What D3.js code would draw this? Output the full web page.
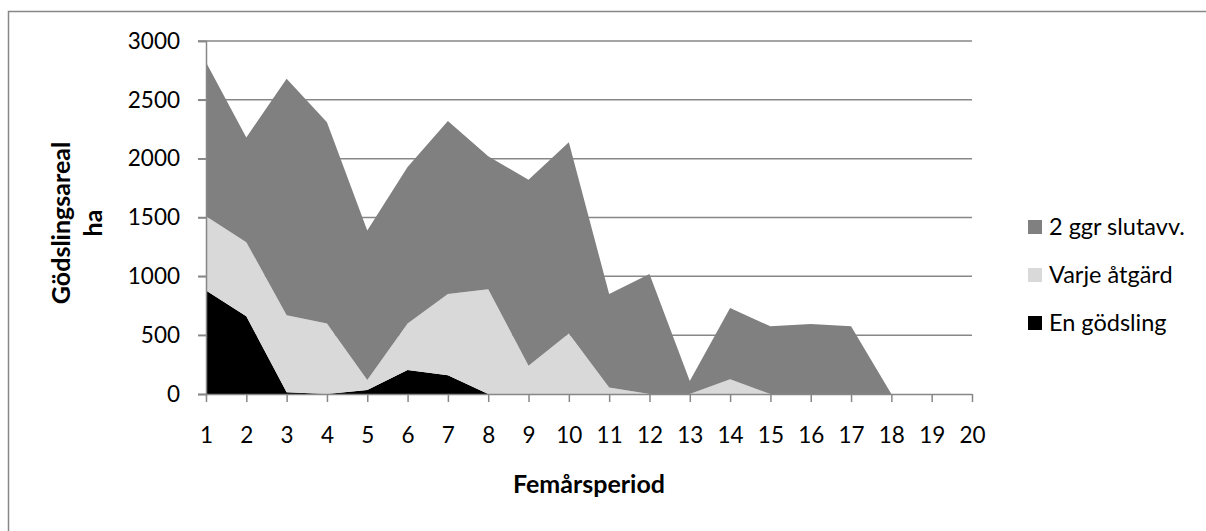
<!DOCTYPE html>
<html>
<head>
<meta charset="utf-8">
<script src="https://cdn.jsdelivr.net/npm/d3@7"></script>
<style>
  html, body { margin: 0; padding: 0; background: #fff; }
  svg { display: block; }
  text { font-family: Lato, "Open Sans", sans-serif; fill: #000; }
</style>
</head>
<body>
<svg id="chart" width="1206" height="531"></svg>
<script>
// Femårsperioder 1–20
const periods = d3.range(1, 21);

// Gödslingsareal (ha) per period och strategi
const enGodsling   = [880, 660, 15, 0, 35, 205, 160, 0, 0, 0, 0, 0, 0, 0, 0, 0, 0, 0, 0, 0];
const varjeAtgard  = [630, 630, 655, 600, 85, 395, 690, 890, 240, 515, 55, 0, 0, 125, 0, 0, 0, 0, 0, 0];
const tvaGgrSlut   = [1310, 890, 2010, 1710, 1270, 1330, 1470, 1130, 1580, 1625, 795, 1020, 110, 605, 575, 595, 575, 0, 0, 0];

const seriesNames  = ["En gödsling", "Varje åtgärd", "2 ggr slutavv."];
const seriesColors = ["#000000", "#d9d9d9", "#808080"];
const yTicks = [0, 500, 1000, 1500, 2000, 2500, 3000];

const rows = periods.map((p, i) => ({
  period: p,
  "En gödsling": enGodsling[i],
  "Varje åtgärd": varjeAtgard[i],
  "2 ggr slutavv.": tvaGgrSlut[i]
}));

const svg = d3.select("#chart");
const gridColor = "#878787";

// chart frame
svg.append("rect")
  .attr("x", 8.5).attr("y", 11.5)
  .attr("width", 1230).attr("height", 560)
  .attr("fill", "none").attr("stroke", gridColor).attr("stroke-width", 1.5);

const x = d3.scaleLinear().domain([1, 20]).range([206, 972]);
const y = d3.scaleLinear().domain([0, 3000]).range([394, 41]);

// horizontal gridlines
svg.append("g").selectAll("line")
  .data(yTicks.filter(d => d > 0))
  .join("line")
  .attr("x1", 198).attr("x2", 972)
  .attr("y1", d => y(d)).attr("y2", d => y(d))
  .attr("stroke", gridColor).attr("stroke-width", 1.5);

// stacked areas
const stack = d3.stack().keys(seriesNames);
const layers = stack(rows);
const area = d3.area()
  .x(d => x(d.data.period))
  .y0(d => y(d[0]))
  .y1(d => y(d[1]));

svg.append("g").selectAll("path")
  .data(layers)
  .join("path")
  .attr("d", area)
  .attr("fill", (d, i) => seriesColors[i]);

// y axis
const yAxis = d3.axisLeft(y).tickValues(yTicks).tickSize(8).tickPadding(18).tickFormat(d3.format("d"));
const gy = svg.append("g").attr("transform", "translate(206,0)").call(yAxis);
gy.select(".domain").attr("stroke", gridColor).attr("stroke-width", 1.5);
gy.selectAll(".tick line").attr("stroke", gridColor).attr("stroke-width", 1.5);
gy.selectAll(".tick text").attr("font-size", "22.5px").attr("font-family", "Lato, sans-serif");

// x axis
const xAxis = d3.axisBottom(x).tickValues(periods).tickSize(8).tickPadding(25).tickFormat(d3.format("d"));
const gx = svg.append("g").attr("transform", "translate(0,394)").call(xAxis);
gx.select(".domain").attr("d", "M198,0.5H972").attr("stroke", gridColor).attr("stroke-width", 1.5);
gx.selectAll(".tick line").attr("stroke", gridColor).attr("stroke-width", 1.5);
gx.selectAll(".tick text").attr("font-size", "22.5px").attr("font-family", "Lato, sans-serif");

// axis titles
svg.append("text")
  .attr("x", 589).attr("y", 493)
  .attr("text-anchor", "middle")
  .attr("font-size", "25px").attr("font-weight", "bold")
  .text("Femårsperiod");

const yTitle = svg.append("text")
  .attr("transform", "translate(0,223) rotate(-90)")
  .attr("text-anchor", "middle")
  .attr("font-size", "25px").attr("font-weight", "bold");
yTitle.append("tspan").attr("x", 0).attr("y", 70).text("Gödslingsareal");
yTitle.append("tspan").attr("x", 0).attr("y", 102).text("ha");

// legend (top to bottom: reverse stacking order)
const legendItems = seriesNames.map((n, i) => ({ name: n, color: seriesColors[i] })).reverse();
const lg = svg.append("g").selectAll("g")
  .data(legendItems)
  .join("g")
  .attr("transform", (d, i) => `translate(1028,${227 + i * 48})`);
lg.append("rect")
  .attr("x", 0).attr("y", -7).attr("width", 14).attr("height", 14)
  .attr("fill", d => d.color);
lg.append("text")
  .attr("x", 21).attr("y", 0).attr("dy", "0.35em")
  .attr("font-size", "23.5px")
  .text(d => d.name);
</script>
</body>
</html>
